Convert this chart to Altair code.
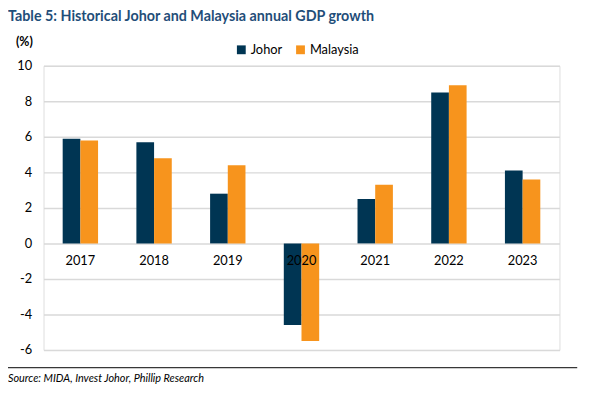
import altair as alt
import pandas as pd

years = ["2017", "2018", "2019", "2020", "2021", "2022", "2023"]
johor = [5.9, 5.7, 2.8, -4.6, 2.5, 8.5, 4.1]
malaysia = [5.8, 4.8, 4.4, -5.5, 3.3, 8.9, 3.6]
series = ["Johor", "Malaysia"]
colors = ["#003553", "#F7941D"]
y_ticks = [-6, -4, -2, 0, 2, 4, 6, 8, 10]

rows = []
for i, yr in enumerate(years):
    rows.append({"year": yr, "series": "Johor", "value": johor[i]})
    rows.append({"year": yr, "series": "Malaysia", "value": malaysia[i]})
df = pd.DataFrame(rows)
years_df = pd.DataFrame({"year": years})

FONT = "Lato"

xscale = alt.Scale(domain=years, paddingInner=0.52, paddingOuter=0.26)
yscale = alt.Scale(domain=[-6, 10], nice=False, zero=False)

yaxis = alt.Axis(values=y_ticks, title=None, domain=False, ticks=False,
                 grid=True, gridColor="#D9D9D9", gridWidth=1.5,
                 labelFont=FONT, labelFontSize=13, labelColor="#000000",
                 labelPadding=12, labelOverlap=False,
                 labelExpr="'' + datum.value")

bars = alt.Chart(df).mark_bar().encode(
    x=alt.X("year:N", scale=xscale, axis=None),
    xOffset=alt.XOffset("series:N", scale=alt.Scale(domain=series, paddingInner=0, paddingOuter=0)),
    y=alt.Y("value:Q", scale=yscale, axis=yaxis),
    color=alt.Color("series:N", scale=alt.Scale(domain=series, range=colors),
                    legend=alt.Legend(title=None, orient="none", direction="horizontal",
                                      legendX=194, legendY=-23, symbolType="square",
                                      symbolSize=80, symbolStrokeWidth=0,
                                      labelFont=FONT, labelFontSize=13, labelColor="#000000",
                                      columnPadding=12, labelOffset=3)),
)

year_labels = alt.Chart(years_df).mark_text(
    font=FONT, fontSize=13, color="#000000", dy=18, baseline="middle"
).encode(
    x=alt.X("year:N", scale=xscale, axis=None),
    y=alt.Y(datum=0, scale=yscale, axis=yaxis),
    text="year:N",
)

title_txt = alt.Chart(pd.DataFrame({"t": ["Table 5: Historical Johor and Malaysia annual GDP growth"]})).mark_text(
    font=FONT, fontSize=14.5, fontWeight="bold", color="#1F4E79", align="left", baseline="middle"
).encode(x=alt.value(-36), y=alt.value(-49), text="t:N")

unit_txt = alt.Chart(pd.DataFrame({"t": ["(%)"]})).mark_text(
    font=FONT, fontSize=12.5, fontWeight="bold", color="#000000", align="left", baseline="middle"
).encode(x=alt.value(-28), y=alt.value(-24), text="t:N")

source_txt = alt.Chart(pd.DataFrame({"t": ["Source: MIDA, Invest Johor, Phillip Research"]})).mark_text(
    font=FONT, fontSize=11, fontStyle="italic", color="#000000", align="left", baseline="middle"
).encode(x=alt.value(-36), y=alt.value(317), text="t:N")

rule = alt.Chart(pd.DataFrame({"a": [0]})).mark_rule(color="#000000", strokeWidth=1).encode(
    x=alt.value(-39), x2=alt.value(541), y=alt.value(306)
)

chart = alt.layer(bars, year_labels, title_txt, unit_txt, source_txt, rule).properties(
    width=523, height=288,
    padding={"left": 36, "top": 56, "right": 35, "bottom": 40},
    autosize=alt.AutoSizeParams(type="none"),
).configure_view(stroke=None).configure(background="#FFFFFF")

chart.save("out.html", embed_options={"renderer": "svg", "actions": False})
